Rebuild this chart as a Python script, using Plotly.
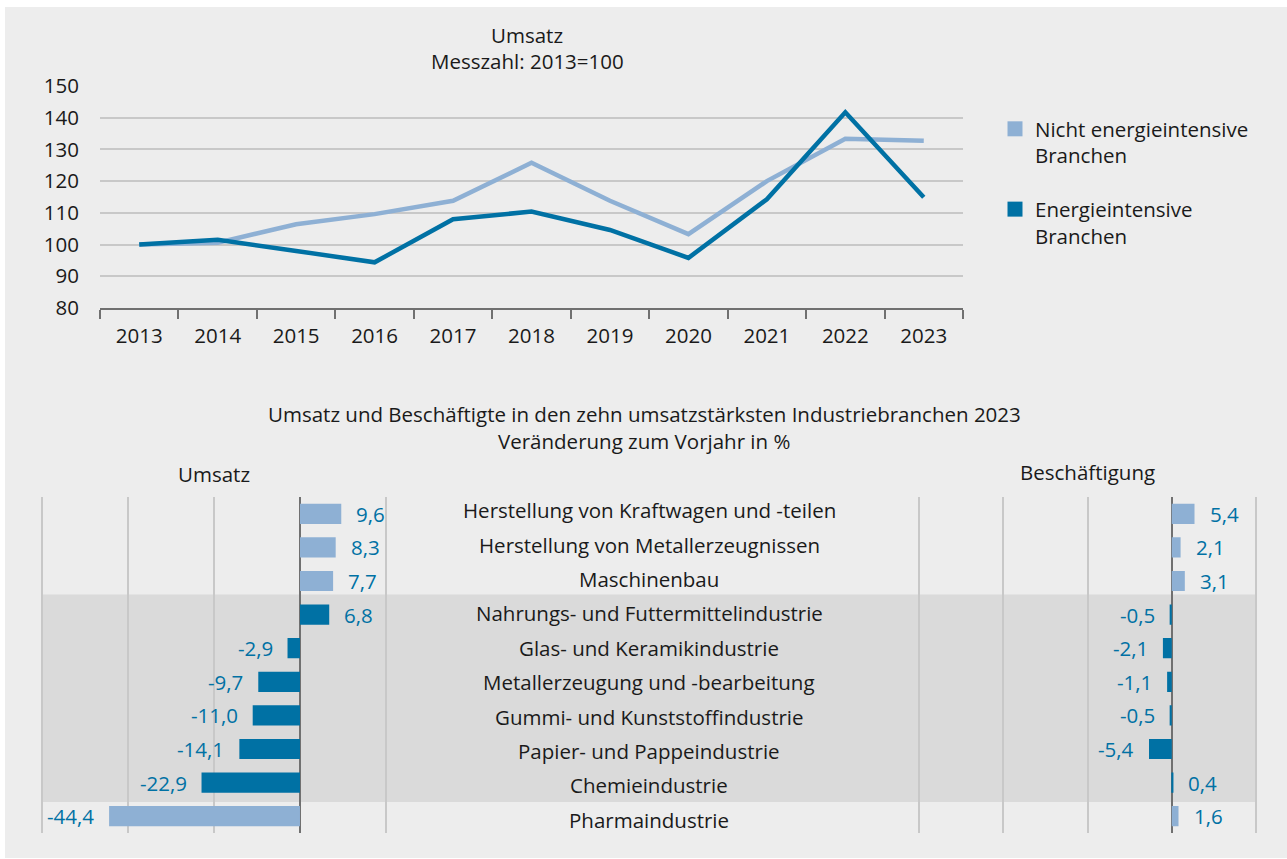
import plotly.graph_objects as go

# ---------------- data ----------------
years = ["2013", "2014", "2015", "2016", "2017", "2018", "2019", "2020", "2021", "2022", "2023"]
nicht_energieintensiv = [100, 100.6, 106.4, 109.6, 113.8, 125.8, 113.8, 103.3, 120.0, 133.4, 132.7]
energieintensiv = [100, 101.5, 98.0, 94.4, 108.0, 110.4, 104.6, 95.8, 114.3, 141.7, 114.9]

branchen = [
    "Herstellung von Kraftwagen und -teilen",
    "Herstellung von Metallerzeugnissen",
    "Maschinenbau",
    "Nahrungs- und Futtermittelindustrie",
    "Glas- und Keramikindustrie",
    "Metallerzeugung und -bearbeitung",
    "Gummi- und Kunststoffindustrie",
    "Papier- und Pappeindustrie",
    "Chemieindustrie",
    "Pharmaindustrie",
]
umsatz = [9.6, 8.3, 7.7, 6.8, -2.9, -9.7, -11.0, -14.1, -22.9, -44.4]
beschaeftigung = [5.4, 2.1, 3.1, -0.5, -2.1, -1.1, -0.5, -5.4, 0.4, 1.6]
ist_energieintensiv = [False, False, False, True, True, True, True, True, True, False]

# ---------------- styles ----------------
W, H = 1287, 859
LIGHT = "#8eb0d4"
DARK = "#0071a4"
LABEL = "#0071a4"
TEXT = "#1a1a1a"
GRID = "#c8c8c8"
AXIS = "#707070"
BG = "#ededed"
BAND = "#dadada"
FONT = "Open Sans"
FS = 20.5


def px(x):
    return x / W


def py(y):
    return 1 - y / H


def fmt(v):
    return f"{v:.1f}".replace(".", ",")


fig = go.Figure()

# ---- top line chart ----
fig.add_trace(go.Scatter(x=years, y=nicht_energieintensiv, mode="lines",
                         line=dict(color=LIGHT, width=4.5), showlegend=False,
                         xaxis="x", yaxis="y"))
fig.add_trace(go.Scatter(x=years, y=energieintensiv, mode="lines",
                         line=dict(color=DARK, width=4.5), showlegend=False,
                         xaxis="x", yaxis="y"))
# legend entries (square symbols)
fig.add_trace(go.Scatter(x=[None], y=[None], mode="markers",
                         marker=dict(symbol="square", size=15, color=LIGHT),
                         name="Nicht energieintensive<br>Branchen", legendgroup="a",
                         xaxis="x", yaxis="y"))
fig.add_trace(go.Scatter(x=[None], y=[None], mode="markers",
                         marker=dict(symbol="square", size=15, color=DARK),
                         name="Energieintensive<br>Branchen", legendgroup="b",
                         xaxis="x", yaxis="y"))

# ---- bottom bars ----
rows = list(range(len(branchen)))
colors = [DARK if e else LIGHT for e in ist_energieintensiv]
fig.add_trace(go.Bar(x=umsatz, y=rows, orientation="h", marker=dict(color=colors, line=dict(width=0)),
                     width=0.6, showlegend=False, xaxis="x2", yaxis="y2"))
fig.add_trace(go.Bar(x=beschaeftigung, y=rows, orientation="h", marker=dict(color=colors, line=dict(width=0)),
                     width=0.6, showlegend=False, xaxis="x3", yaxis="y3"))

annotations = []
for i, name in enumerate(branchen):
    annotations.append(dict(x=px(649), xref="paper", y=i, yref="y4", text=name,
                            showarrow=False, xanchor="center", yanchor="middle",
                            font=dict(size=FS, color=TEXT)))
for i, v in enumerate(umsatz):
    annotations.append(dict(x=v, xref="x2", y=i, yref="y2", text=fmt(v), showarrow=False,
                            xanchor="left" if v >= 0 else "right", xshift=13 if v >= 0 else -13,
                            yanchor="middle", font=dict(size=FS, color=LABEL)))
for i, v in enumerate(beschaeftigung):
    annotations.append(dict(x=v, xref="x3", y=i, yref="y3", text=fmt(v), showarrow=False,
                            xanchor="left" if v >= 0 else "right", xshift=13 if v >= 0 else -13,
                            yanchor="middle", font=dict(size=FS, color=LABEL)))

# titles
annotations += [
    dict(x=px(527), y=py(35), xref="paper", yref="paper", text="Umsatz", showarrow=False,
         xanchor="center", yanchor="middle", font=dict(size=FS, color=TEXT)),
    dict(x=px(527), y=py(61), xref="paper", yref="paper", text="Messzahl: 2013=100", showarrow=False,
         xanchor="center", yanchor="middle", font=dict(size=FS, color=TEXT)),
    dict(x=px(644), y=py(414), xref="paper", yref="paper",
         text="Umsatz und Beschäftigte in den zehn umsatzstärksten Industriebranchen 2023",
         showarrow=False, xanchor="center", yanchor="middle", font=dict(size=FS, color=TEXT)),
    dict(x=px(644), y=py(441), xref="paper", yref="paper", text="Veränderung zum Vorjahr in %",
         showarrow=False, xanchor="center", yanchor="middle", font=dict(size=FS, color=TEXT)),
    dict(x=px(214), y=py(474), xref="paper", yref="paper", text="Umsatz", showarrow=False,
         xanchor="center", yanchor="middle", font=dict(size=FS, color=TEXT)),
    dict(x=px(1087), y=py(472), xref="paper", yref="paper", text="Beschäftigung", showarrow=False,
         xanchor="center", yanchor="middle", font=dict(size=FS, color=TEXT)),
]

shapes = [
    dict(type="rect", xref="paper", yref="paper", x0=px(5), x1=1, y0=py(858), y1=py(7),
         fillcolor=BG, line=dict(width=0), layer="below"),
    dict(type="rect", xref="paper", yref="y2", x0=px(42), x1=px(1257), y0=2.4, y1=8.58,
         fillcolor=BAND, line=dict(width=0), layer="below"),
]

bottom_y_domain = [py(833), py(497)]
label_y_domain = [py(837), py(493)]
# slight range padding so that the edge gridlines (-60 and 20) are drawn
XR = [-60.4, 20.4]
left_dom = [px(42 - 1.7), px(386 + 1.7)]
right_dom = [px(919 - 1.7), px(1256 + 1.7)]

fig.update_layout(
    width=W, height=H,
    autosize=False,
    margin=dict(l=0, r=0, t=0, b=0, pad=0, autoexpand=False),
    paper_bgcolor="white",
    plot_bgcolor="rgba(0,0,0,0)",
    font=dict(family=FONT, size=FS, color=TEXT),
    showlegend=True,
    legend=dict(x=px(995), y=py(109), xanchor="left", yanchor="top", bgcolor="rgba(0,0,0,0)",
                valign="top", tracegroupgap=24, font=dict(size=FS, color=TEXT)),
    xaxis=dict(domain=[px(100), px(963)], type="category", range=[-0.5, 10.5],
               tickson="boundaries",
               ticks="outside", ticklen=9, tickwidth=1.5, tickcolor=AXIS,
               showline=True, linecolor=AXIS, linewidth=2, showgrid=False, automargin=False,
               ticklabelstandoff=8, tickfont=dict(size=FS, color=TEXT), anchor="y",
               fixedrange=True),
    yaxis=dict(domain=[py(308), py(86)], range=[80, 150], dtick=10, showgrid=True,
               gridcolor=GRID, gridwidth=1.5, zeroline=False, showline=False, automargin=False,
               ticklabelstandoff=20, tickfont=dict(size=FS, color=TEXT), anchor="x"),
    xaxis2=dict(domain=left_dom, range=XR, tick0=-60, dtick=20, showgrid=True,
                gridcolor=GRID, gridwidth=1.5, zeroline=True, zerolinecolor=AXIS,
                zerolinewidth=2, showticklabels=False, anchor="y2", automargin=False),
    yaxis2=dict(domain=bottom_y_domain, range=[9.5, -0.5], showgrid=False, zeroline=False,
                showticklabels=False, anchor="x2", automargin=False),
    xaxis3=dict(domain=right_dom, range=XR, tick0=-60, dtick=20, showgrid=True,
                gridcolor=GRID, gridwidth=1.5, zeroline=True, zerolinecolor=AXIS,
                zerolinewidth=2, showticklabels=False, anchor="y3", automargin=False),
    yaxis3=dict(domain=bottom_y_domain, range=[9.5, -0.5], showgrid=False, zeroline=False,
                showticklabels=False, anchor="x3", automargin=False),
    yaxis4=dict(domain=label_y_domain, range=[9.5, -0.5], showgrid=False, zeroline=False,
                showticklabels=False, showline=False, ticks="", anchor="free", position=0,
                automargin=False),
    annotations=annotations,
    shapes=shapes,
    bargap=0.4,
)

fig.write_html("out.html", config={"displayModeBar": False},
               post_script="document.body.style.margin='0';document.body.style.overflow='hidden';")
